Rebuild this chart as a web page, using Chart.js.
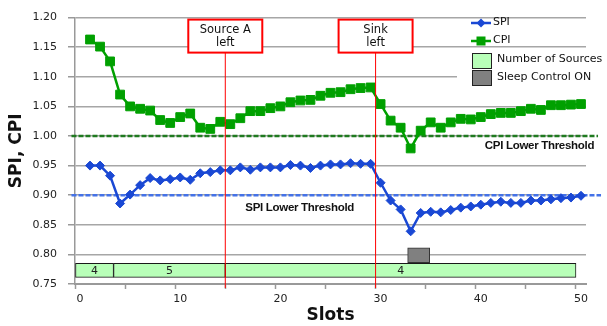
<!DOCTYPE html>
<html>
<head>
<meta charset="utf-8">
<script src="https://cdn.jsdelivr.net/npm/chart.js@4.4.1/dist/chart.umd.min.js"></script>
<style>
  html, body { margin: 0; padding: 0; background: #fff; }
  #wrap { width: 607px; height: 326px; position: relative; }
</style>
</head>
<body>
<div id="wrap"><canvas id="chart" width="607" height="326"></canvas></div>
<script>
// slots 1..50
const slots = [1, 2, 3, 4, 5, 6, 7, 8, 9, 10, 11, 12, 13, 14, 15, 16, 17, 18, 19, 20,
  21, 22, 23, 24, 25, 26, 27, 28, 29, 30, 31, 32, 33, 34, 35, 36, 37, 38, 39, 40,
  41, 42, 43, 44, 45, 46, 47, 48, 49, 50];
const spi = [0.950, 0.950, 0.933, 0.886, 0.901, 0.917, 0.929, 0.925, 0.927, 0.930,
  0.926, 0.937, 0.939, 0.942, 0.942, 0.947, 0.943, 0.947, 0.947, 0.947,
  0.951, 0.950, 0.946, 0.950, 0.952, 0.952, 0.954, 0.953, 0.953, 0.921,
  0.891, 0.876, 0.839, 0.870, 0.872, 0.871, 0.875, 0.879, 0.881, 0.884,
  0.887, 0.889, 0.887, 0.887, 0.891, 0.891, 0.893, 0.895, 0.896, 0.899];
const cpi = [1.163, 1.151, 1.126, 1.070, 1.050, 1.046, 1.043, 1.027, 1.022, 1.032,
  1.038, 1.014, 1.012, 1.024, 1.020, 1.030, 1.042, 1.042, 1.047, 1.050,
  1.057, 1.060, 1.061, 1.068, 1.073, 1.074, 1.079, 1.081, 1.082, 1.054,
  1.026, 1.014, 0.979, 1.009, 1.023, 1.014, 1.023, 1.029, 1.028, 1.032,
  1.037, 1.039, 1.039, 1.042, 1.046, 1.044, 1.052, 1.052, 1.053, 1.054];
const spiThreshold = 0.90;
const cpiThreshold = 1.00;

// number of sources band: counts and slot boundaries
const sourceCounts = [4, 5, 4];
const sourceBounds = [0, 3.85, 15, 50];
const sleepRange = [33.2, 35.4];

const eventSlots = [15, 30];
const eventTexts = [["Source A", "left"], ["Sink", "left"]];

const FONT = '"DejaVu Sans", Verdana, sans-serif';
const SPI_COL = "#1a48d4";
const CPI_COL = "#00a000";

// excel draws each slot centred between ticks
const spiPts = slots.map((s, i) => ({ x: s + 0.5, y: spi[i] }));
const cpiPts = slots.map((s, i) => ({ x: s + 0.5, y: cpi[i] }));
const sourceBars = sourceCounts.map((c, i) => ({ x: [sourceBounds[i], sourceBounds[i + 1]], y: 0.773 }));

const overlay = {
  id: "overlay",
  afterDatasetsDraw(chart) {
    const { ctx, chartArea, scales: { x, y } } = chart;
    ctx.save();

    // labels on the sources band
    const meta = chart.getDatasetMeta(4);
    ctx.font = "11px " + FONT;
    ctx.fillStyle = "#222";
    ctx.textAlign = "center";
    ctx.textBaseline = "middle";
    meta.data.forEach((bar, i) => {
      const p = bar.getProps(["x", "y", "base"], true);
      ctx.fillText(String(sourceCounts[i]), (p.x + p.base) / 2, p.y + 1);
    });

    // threshold labels
    ctx.font = 'bold 11.5px "Liberation Sans", Arial, sans-serif';
    ctx.letterSpacing = "-0.3px";
    ctx.fillStyle = "#111";
    ctx.textAlign = "left";
    ctx.fillText("CPI Lower Threshold", x.getPixelForValue(40.9), y.getPixelForValue(0.984));
    ctx.fillText("SPI Lower Threshold", x.getPixelForValue(17.0), y.getPixelForValue(0.879));
    ctx.letterSpacing = "0px";

    // event markers with callouts
    eventSlots.forEach((s, i) => {
      const px = x.getPixelForValue(s);
      const top = chartArea.top + 2;
      const h = 33;
      ctx.strokeStyle = "#ff0000";
      ctx.lineWidth = 1;
      ctx.beginPath();
      ctx.moveTo(px, top + h);
      ctx.lineTo(px, chartArea.bottom + 4);
      ctx.stroke();
      ctx.fillStyle = "#fff";
      ctx.fillRect(px - 37, top, 74, h);
      ctx.lineWidth = 2;
      ctx.strokeRect(px - 37, top, 74, h);
      ctx.fillStyle = "#111";
      ctx.font = "11.5px " + FONT;
      ctx.textAlign = "center";
      ctx.fillText(eventTexts[i][0], px, top + 10);
      ctx.fillText(eventTexts[i][1], px, top + 23);
    });

    // legend
    ctx.textAlign = "left";
    ctx.font = "11px " + FONT;
    ctx.fillStyle = "#fff";
    ctx.fillRect(457, 49, 150, 40);
    ctx.lineWidth = 2.5;
    ctx.strokeStyle = SPI_COL;
    ctx.beginPath(); ctx.moveTo(471, 23); ctx.lineTo(491, 23); ctx.stroke();
    ctx.fillStyle = SPI_COL;
    ctx.beginPath(); ctx.moveTo(481, 18.5); ctx.lineTo(485.5, 23); ctx.lineTo(481, 27.5); ctx.lineTo(476.5, 23); ctx.closePath(); ctx.fill();
    ctx.strokeStyle = CPI_COL;
    ctx.beginPath(); ctx.moveTo(471, 41); ctx.lineTo(491, 41); ctx.stroke();
    ctx.fillStyle = CPI_COL;
    ctx.fillRect(476.5, 36.5, 9, 9);
    ctx.fillStyle = "#111";
    ctx.fillText("SPI", 493, 22);
    ctx.fillText("CPI", 493, 40);
    ctx.lineWidth = 1;
    ctx.strokeStyle = "#222";
    ctx.fillStyle = "#b8ffb8";
    ctx.fillRect(472.5, 53.5, 19, 15); ctx.strokeRect(472.5, 53.5, 19, 15);
    ctx.fillStyle = "#808080";
    ctx.fillRect(472.5, 70.5, 19, 15); ctx.strokeRect(472.5, 70.5, 19, 15);
    ctx.fillStyle = "#111";
    ctx.fillText("Number of Sources", 497, 59);
    ctx.fillText("Sleep Control ON", 497, 77);
    ctx.restore();
  }
};

new Chart(document.getElementById("chart"), {
  type: "line",
  data: {
    datasets: [
      { label: "SPI", data: spiPts, borderColor: SPI_COL, backgroundColor: SPI_COL, borderWidth: 2.5,
        pointStyle: "rectRot", pointRadius: 4.5, pointBorderWidth: 1, order: 0 },
      { label: "CPI", data: cpiPts, borderColor: CPI_COL, backgroundColor: CPI_COL, borderWidth: 2.5,
        pointStyle: "rect", pointRadius: 6.2, pointBorderWidth: 1, order: 1 },
      { label: "CPI threshold", data: [{ x: -0.35, y: cpiThreshold }, { x: 52.2, y: cpiThreshold }],
        borderColor: "#1f7a1f", borderWidth: 2.5, borderDash: [5, 2], pointRadius: 0, clip: false, order: 2 },
      { label: "SPI threshold", data: [{ x: -0.35, y: spiThreshold }, { x: 52.5, y: spiThreshold }],
        borderColor: "#4472e8", borderWidth: 2.5, borderDash: [5, 2], pointRadius: 0, clip: false, order: 2 },
      { type: "bar", label: "Number of Sources", data: sourceBars, indexAxis: "y", grouped: false,
        barThickness: 14, backgroundColor: "#b8ffb8", borderColor: "#1a1a1a", borderWidth: 1,
        borderSkipped: false, order: 3 },
      { type: "bar", label: "Sleep Control ON", data: [{ x: sleepRange, y: 0.7985 }], indexAxis: "y", grouped: false,
        barThickness: 15, backgroundColor: "#808080", borderColor: "#333", borderWidth: 1,
        borderSkipped: false, order: 3 }
    ]
  },
  options: {
    responsive: false,
    animation: false,
    events: [],
    layout: { padding: { top: 14, right: 21, left: 0, bottom: 0 } },
    plugins: { legend: { display: false }, tooltip: { enabled: false } },
    scales: {
      x: {
        type: "linear", min: 0, max: 51, stacked: false, offset: false,
        afterFit: (s) => { s.height = 42; },
        border: { color: "#999", width: 2 },
        grid: { offset: false, drawOnChartArea: false, drawTicks: true, tickLength: 5, tickColor: "#999", tickWidth: 1.5 },
        ticks: { stepSize: 5, includeBounds: false, padding: 4, labelOffset: 5, color: "#222",
          font: { family: FONT, size: 11 },
          callback: (v) => (v % 10 === 0 ? String(v) : "") },
        title: { display: true, text: "Slots", color: "#111", padding: { top: 0, bottom: 0 },
          font: { family: FONT, size: 17, weight: "bold" } }
      },
      y: {
        type: "linear", min: 0.75, max: 1.2, offset: false,
        afterFit: (s) => { s.width = 75; },
        border: { color: "#999", width: 1.5 },
        grid: { offset: false, color: "#a6a6a6", lineWidth: 1.5, tickLength: 7, tickColor: "#999" },
        ticks: { stepSize: 0.05, padding: 11, color: "#222", font: { family: FONT, size: 11 },
          callback: (v) => v.toFixed(2) },
        title: { display: true, text: "SPI, CPI", color: "#111", padding: { top: 6, bottom: 0 },
          font: { family: FONT, size: 17, weight: "bold" } }
      }
    }
  },
  plugins: [overlay]
});
</script>
</body>
</html>
